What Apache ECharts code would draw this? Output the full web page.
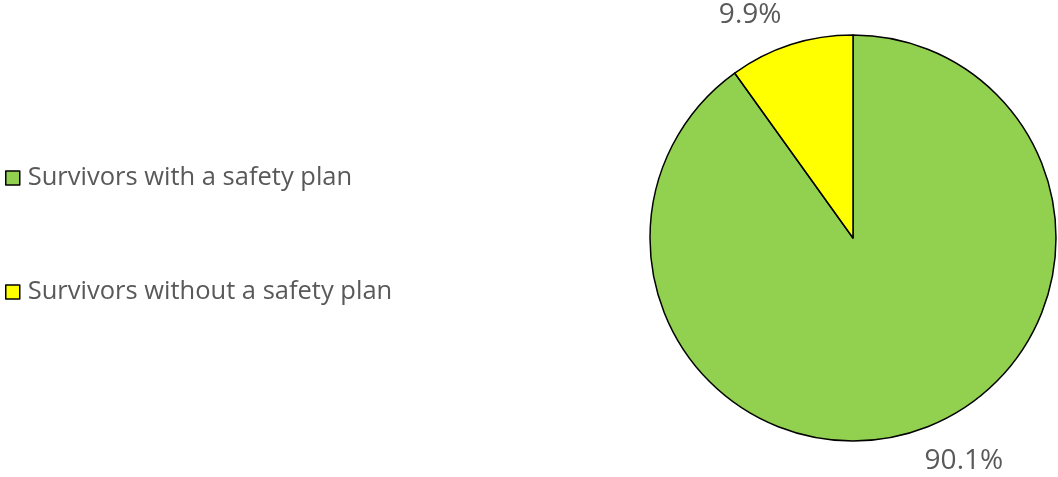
<!DOCTYPE html>
<html>
<head>
<meta charset="utf-8">
<script src="https://cdn.jsdelivr.net/npm/echarts@6/dist/echarts.min.js"></script>
<style>html,body{margin:0;padding:0;background:#fff;}#c{width:1058px;height:477px;}</style>
</head>
<body>
<div id="c"></div>
<script>
var categories = ["Survivors with a safety plan", "Survivors without a safety plan"];
var values = [90.1, 9.9];
var colors = ["#92D050", "#FFFF00"];

var chart = echarts.init(document.getElementById('c'));
chart.setOption({
  animation: false,
  legend: {
    orient: 'vertical',
    left: 0,
    top: 159,
    itemGap: 86,
    itemWidth: 14,
    itemHeight: 14,
    icon: 'rect',
    itemStyle: { borderColor: '#000', borderWidth: 1.5 },
    textStyle: { fontFamily: 'Open Sans', fontSize: 25.5, color: '#595959', lineHeight: 28, padding: [0,0,0,3] },
    data: categories
  },
  series: [{
    type: 'pie',
    center: [853, 238],
    radius: 203,
    startAngle: 90,
    clockwise: true,
    itemStyle: { borderColor: '#000', borderWidth: 1.5 },
    label: {
      show: true,
      position: 'outside',
      distanceToLabelLine: 0,
      formatter: function(p){ return p.value.toFixed(1) + '%'; },
      fontFamily: 'Open Sans',
      fontSize: 28,
      color: '#595959'
    },
    labelLine: { show: false, length: 31, length2: 0 },
    emphasis: { disabled: true },
    data: categories.map(function(c, i){ return { name: c, value: values[i], itemStyle: { color: colors[i] } }; })
  }]
});
</script>
</body>
</html>
